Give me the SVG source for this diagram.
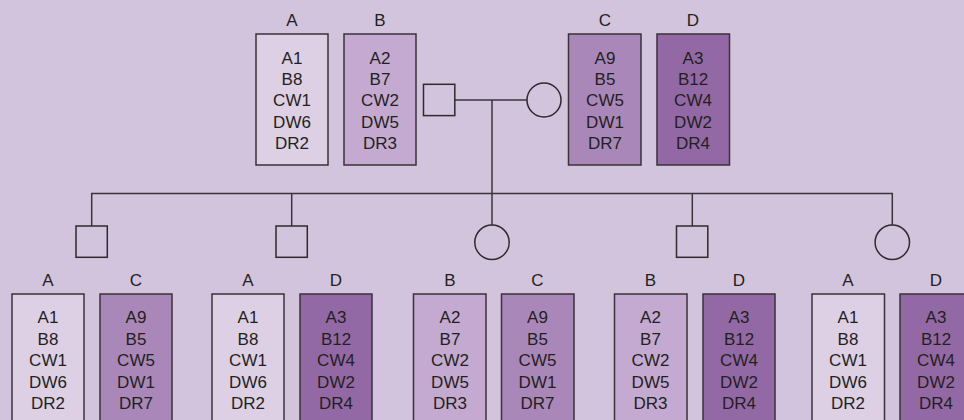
<svg xmlns="http://www.w3.org/2000/svg" width="964" height="420" viewBox="0 0 964 420">
<style>
.bg{fill:#d3c4de}
.box{stroke:#3a3238;stroke-width:1.5}
.a{fill:#ddd0e5}.b{fill:#c4aad0}.c{fill:#a988b9}.d{fill:#9369a5}
.sym{fill:none;stroke:#2e2a2e;stroke-width:1.5}
.ln{fill:none;stroke:#3a3438;stroke-width:1.5}
text{font-family:"Liberation Sans",Arial,sans-serif;font-size:17px;fill:#231f20;text-anchor:middle}
</style>
<rect class="bg" x="0" y="0" width="964" height="420"/>
<g id="connectors">
<path class="ln" d="M455 100 H527"/>
<path class="ln" d="M492 100 V193.5"/>
<path class="ln" d="M91.7 226 V193.5 H892.3 V225"/>
<path class="ln" d="M291.7 193.5 V226"/>
<path class="ln" d="M492 193.5 V225"/>
<path class="ln" d="M692.3 193.5 V226"/>
</g>
<g id="father"><rect class="sym" x="423.5" y="84.3" width="31.3" height="31.3"/></g>
<g id="mother"><circle class="sym" cx="544" cy="100" r="17"/></g>
<g id="child1"><rect class="sym" x="76" y="226" width="31.3" height="31.3"/></g>
<g id="child2"><rect class="sym" x="276" y="226" width="31.3" height="31.3"/></g>
<g id="child3"><circle class="sym" cx="492" cy="242.3" r="17.2"/></g>
<g id="child4"><rect class="sym" x="676.5" y="226" width="31.3" height="31.3"/></g>
<g id="child5"><circle class="sym" cx="892.3" cy="242.3" r="17.2"/></g>

<g id="topA"><text x="292" y="26">A</text><rect class="box a" x="256" y="34" width="72" height="131"/>
<text x="292" y="64">A1</text><text x="292" y="85.2">B8</text><text x="292" y="106.4">CW1</text><text x="292" y="127.6">DW6</text><text x="292" y="148.8">DR2</text></g>
<g id="topB"><text x="380" y="26">B</text><rect class="box b" x="344" y="34" width="72" height="131"/>
<text x="380" y="64">A2</text><text x="380" y="85.2">B7</text><text x="380" y="106.4">CW2</text><text x="380" y="127.6">DW5</text><text x="380" y="148.8">DR3</text></g>
<g id="topC"><text x="605" y="26">C</text><rect class="box c" x="568.5" y="34" width="72.5" height="131"/>
<text x="605" y="64">A9</text><text x="605" y="85.2">B5</text><text x="605" y="106.4">CW5</text><text x="605" y="127.6">DW1</text><text x="605" y="148.8">DR7</text></g>
<g id="topD"><text x="693" y="26">D</text><rect class="box d" x="657" y="34" width="72.5" height="131"/>
<text x="693" y="64">A3</text><text x="693" y="85.2">B12</text><text x="693" y="106.4">CW4</text><text x="693" y="127.6">DW2</text><text x="693" y="148.8">DR4</text></g>

<g id="c1A"><text x="48" y="286">A</text><rect class="box a" x="12" y="294" width="72" height="140"/>
<text x="48" y="323">A1</text><text x="48" y="344.5">B8</text><text x="48" y="366">CW1</text><text x="48" y="387.5">DW6</text><text x="48" y="409">DR2</text></g>
<g id="c1C"><text x="136" y="286">C</text><rect class="box c" x="100" y="294" width="72" height="140"/>
<text x="136" y="323">A9</text><text x="136" y="344.5">B5</text><text x="136" y="366">CW5</text><text x="136" y="387.5">DW1</text><text x="136" y="409">DR7</text></g>

<g id="c2A"><text x="248" y="286">A</text><rect class="box a" x="212" y="294" width="72" height="140"/>
<text x="248" y="323">A1</text><text x="248" y="344.5">B8</text><text x="248" y="366">CW1</text><text x="248" y="387.5">DW6</text><text x="248" y="409">DR2</text></g>
<g id="c2D"><text x="336" y="286">D</text><rect class="box d" x="300" y="294" width="72" height="140"/>
<text x="336" y="323">A3</text><text x="336" y="344.5">B12</text><text x="336" y="366">CW4</text><text x="336" y="387.5">DW2</text><text x="336" y="409">DR4</text></g>

<g id="c3B"><text x="450" y="286">B</text><rect class="box b" x="413.5" y="294" width="72.5" height="140"/>
<text x="450" y="323">A2</text><text x="450" y="344.5">B7</text><text x="450" y="366">CW2</text><text x="450" y="387.5">DW5</text><text x="450" y="409">DR3</text></g>
<g id="c3C"><text x="537.5" y="286">C</text><rect class="box c" x="501.5" y="294" width="72.5" height="140"/>
<text x="537.5" y="323">A9</text><text x="537.5" y="344.5">B5</text><text x="537.5" y="366">CW5</text><text x="537.5" y="387.5">DW1</text><text x="537.5" y="409">DR7</text></g>

<g id="c4B"><text x="650.5" y="286">B</text><rect class="box b" x="614.5" y="294" width="72.5" height="140"/>
<text x="650.5" y="323">A2</text><text x="650.5" y="344.5">B7</text><text x="650.5" y="366">CW2</text><text x="650.5" y="387.5">DW5</text><text x="650.5" y="409">DR3</text></g>
<g id="c4D"><text x="739" y="286">D</text><rect class="box d" x="703" y="294" width="72" height="140"/>
<text x="739" y="323">A3</text><text x="739" y="344.5">B12</text><text x="739" y="366">CW4</text><text x="739" y="387.5">DW2</text><text x="739" y="409">DR4</text></g>

<g id="c5A"><text x="848" y="286">A</text><rect class="box a" x="812" y="294" width="72.5" height="140"/>
<text x="848" y="323">A1</text><text x="848" y="344.5">B8</text><text x="848" y="366">CW1</text><text x="848" y="387.5">DW6</text><text x="848" y="409">DR2</text></g>
<g id="c5D"><text x="936" y="286">D</text><rect class="box d" x="900" y="294" width="72" height="140"/>
<text x="936" y="323">A3</text><text x="936" y="344.5">B12</text><text x="936" y="366">CW4</text><text x="936" y="387.5">DW2</text><text x="936" y="409">DR4</text></g>
</svg>
